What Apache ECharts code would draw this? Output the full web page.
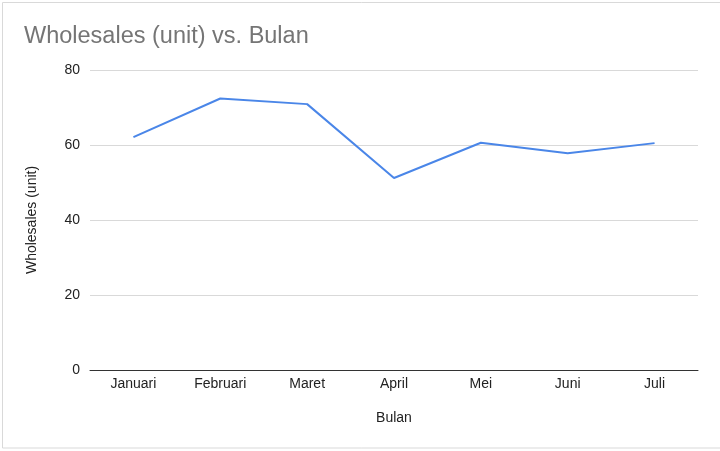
<!DOCTYPE html>
<html>
<head>
<meta charset="utf-8">
<script src="https://cdn.jsdelivr.net/npm/echarts@6/dist/echarts.min.js"></script>
<style>
    html, body { margin: 0; padding: 0; background: #fff; }
    #chart { width: 720px; height: 451px; }
</style>
</head>
<body>
<div id="chart"></div>
<script>
    // data
    const months = ['Januari', 'Februari', 'Maret', 'April', 'Mei', 'Juni', 'Juli'];
    const wholesales = [62.1, 72.4, 70.9, 51.2, 60.6, 57.8, 60.5];

    const font = 'Liberation Sans, Arial, sans-serif';
    const chart = echarts.init(document.getElementById('chart'));
    chart.setOption({
        animation: false,
        title: {
            text: 'Wholesales (unit) vs. Bulan',
            left: 19,
            top: 20,
            textStyle: {
                color: '#757575',
                fontSize: 23.5,
                fontWeight: 'normal',
                fontFamily: font
            }
        },
        graphic: [{
            type: 'rect',
            shape: { x: 2.5, y: 2.5, width: 730, height: 445.5 },
            style: { fill: 'none', stroke: '#d9d9d9', lineWidth: 1 },
            silent: true
        }],
        grid: {
            left: 90,
            right: 22,
            top: 70,
            bottom: 81
        },
        xAxis: {
            type: 'category',
            data: months,
            name: 'Bulan',
            nameLocation: 'middle',
            nameGap: 41,
            nameTextStyle: { color: '#222', fontSize: 14, fontFamily: font },
            axisTick: { show: false },
            axisLine: { lineStyle: { color: '#333', width: 1 } },
            axisLabel: {
                color: '#222',
                fontSize: 14,
                margin: 7,
                fontFamily: font
            }
        },
        yAxis: {
            type: 'value',
            min: 0,
            max: 80,
            interval: 20,
            name: 'Wholesales (unit)',
            nameLocation: 'middle',
            nameGap: 51,
            nameTextStyle: { color: '#222', fontSize: 14, fontFamily: font },
            axisLine: { show: false },
            axisTick: { show: false },
            axisLabel: {
                color: '#222',
                fontSize: 14,
                margin: 10,
                fontFamily: font
            },
            splitLine: { lineStyle: { color: '#d9d9d9' } }
        },
        series: [{
            type: 'line',
            data: wholesales,
            symbol: 'none',
            lineStyle: { color: '#4a86e8', width: 2 }
        }]
    });
</script>
</body>
</html>
